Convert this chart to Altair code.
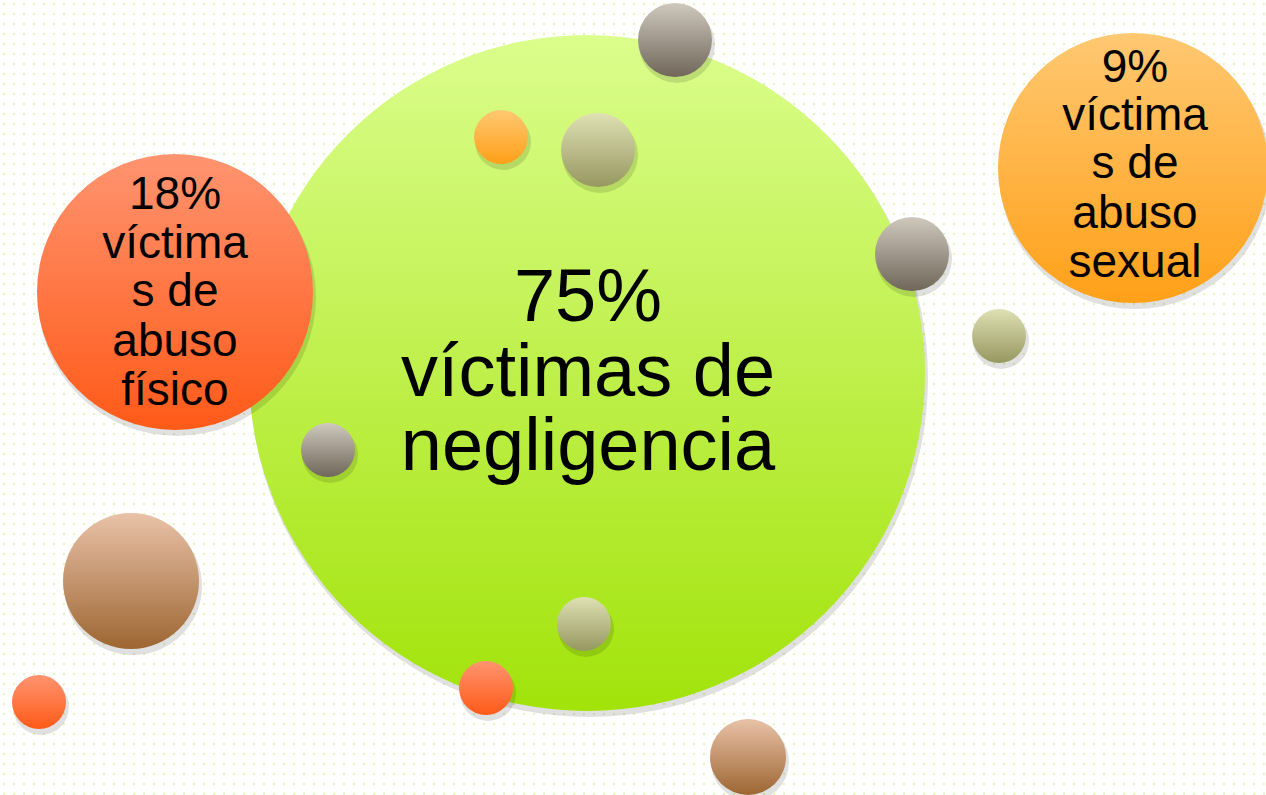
import altair as alt
import pandas as pd

W, H = 1266, 795

# Bubbles: centre x, centre y (pixels from top-left), radius, style
bub_x = [587, 175, 1133, 675, 501, 598, 912, 999, 328, 131, 584, 486, 39, 748]
bub_y = [373, 292, 168, 40, 137, 150, 254, 336, 450, 581, 624, 688, 702, 757]
bub_r = [338, 138, 135, 37, 27, 37, 37, 27, 27, 68, 27, 27, 27, 38]
bub_kind = ["green", "red", "orange", "grey", "orange", "olive", "grey", "olive",
            "grey", "brown", "olive", "red", "red", "brown"]
bub_layer = [0, 1, 1, 2, 2, 2, 2, 2, 2, 2, 2, 2, 2, 2]

styles = {
    "green": ("#dbfd8c", "#a2e30a"),
    "red": ("#ff9470", "#ff5a18"),
    "orange": ("#ffc872", "#ffa018"),
    "grey": ("#cfc8bd", "#70665a"),
    "olive": ("#dfe0b4", "#969860"),
    "brown": ("#e9c2a8", "#9d6632"),
}

# Text lines: text, x, baseline y, font size
txt_lines = ["75%", "víctimas de", "negligencia",
             "18%", "víctima", "s de", "abuso", "físico",
             "9%", "víctima", "s de", "abuso", "sexual"]
txt_x = [588, 588, 588, 175, 175, 175, 175, 175, 1135, 1135, 1135, 1135, 1135]
txt_y = [321, 396, 470, 209, 258, 306, 356, 405, 82, 130, 178, 228, 277]
txt_size = [74, 74, 74, 46, 46, 46, 46, 46, 46, 46, 46, 46, 46]

bub = pd.DataFrame({"x": bub_x, "y": bub_y, "r": bub_r, "kind": bub_kind, "layer": bub_layer})
# Vega circle symbol: diameter = sqrt(size)
bub["area"] = (2 * bub["r"]) ** 2
bub["sx"] = bub["x"] + 2
bub["sy"] = bub["y"] + 5
bub["sarea"] = (2 * (bub["r"] + 1)) ** 2

txt = pd.DataFrame({"t": txt_lines, "x": txt_x, "y": txt_y, "s": txt_size})

# background dot texture
dots = pd.DataFrame([{"x": 4 + 10 * i, "y": 4 + 10 * j} for i in range(127) for j in range(80)])

xs = alt.Scale(domain=[0, W], nice=False, zero=False)
ys = alt.Scale(domain=[H, 0], nice=False, zero=False)

def X(f="x"):
    return alt.X(f"{f}:Q", scale=xs, axis=None)

def Y(f="y"):
    return alt.Y(f"{f}:Q", scale=ys, axis=None)

bg = alt.Chart(dots).mark_square(size=3, color="#cdee8a", opacity=0.9).encode(x=X(), y=Y())

layers = [bg]
for lay in [0, 1, 2]:
    sub = bub[bub["layer"] == lay]
    shadow = alt.Chart(sub).mark_circle(color="#000000", opacity=0.12).encode(
        x=X("sx"), y=Y("sy"), size=alt.Size("sarea:Q", scale=None, legend=None))
    layers.append(shadow)
    for kind in sub["kind"].unique():
        top, bot = styles[kind]
        grad = alt.LinearGradient(
            gradient="linear",
            stops=[alt.GradientStop(color=top, offset=0), alt.GradientStop(color=bot, offset=1)],
            x1=0, x2=0, y1=0, y2=1)
        c = alt.Chart(sub[sub["kind"] == kind]).mark_circle(color=grad, opacity=1).encode(
            x=X(), y=Y(), size=alt.Size("area:Q", scale=None, legend=None))
        layers.append(c)

text = alt.Chart(txt).mark_text(font="Liberation Sans", color="#000000", align="center",
                                baseline="alphabetic").encode(
    x=X(), y=Y(), text="t:N", size=alt.Size("s:Q", scale=None, legend=None))
layers.append(text)

chart = alt.layer(*layers).properties(
    width=W, height=H, padding=0, autosize=alt.AutoSizeParams(type="none"),
    background="#ffffff"
).configure_view(stroke=None)

chart.save("out.html", embed_options={"renderer": "svg", "actions": False})
